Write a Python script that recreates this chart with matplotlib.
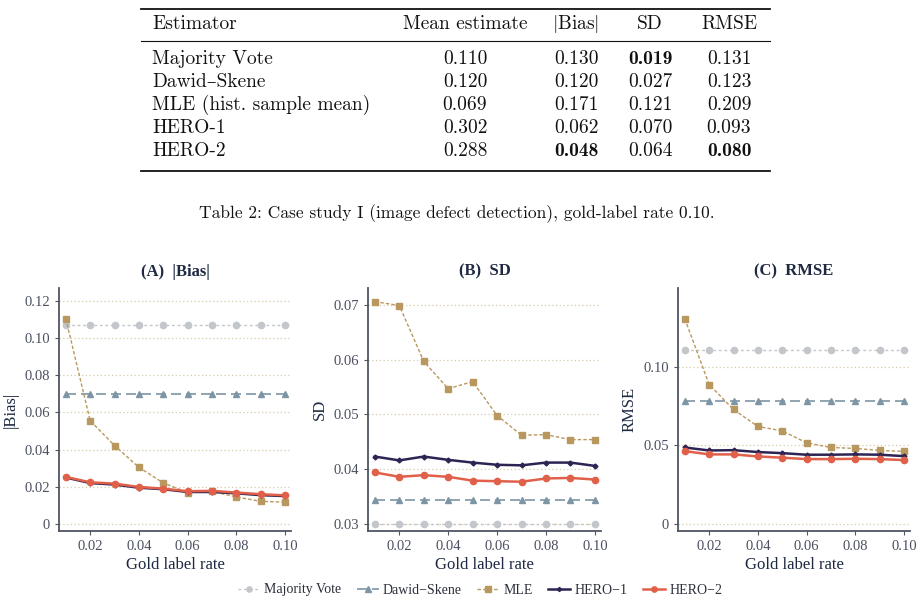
import matplotlib
matplotlib.use("Agg")
import matplotlib.pyplot as plt
import numpy as np

plt.rcParams["mathtext.fontset"] = "cm"

# gold label rates
rates = [0.01, 0.02, 0.03, 0.04, 0.05, 0.06, 0.07, 0.08, 0.09, 0.10]

# (A) |Bias|
bias_mv = [0.107] * 10
bias_ds = [0.070] * 10
bias_mle = [0.1105, 0.0556, 0.0422, 0.0305, 0.0221, 0.0169, 0.0176, 0.0145, 0.0122, 0.0117]
bias_h1 = [0.0250, 0.0220, 0.0212, 0.0195, 0.0187, 0.0172, 0.0172, 0.0165, 0.0155, 0.0150]
bias_h2 = [0.0253, 0.0224, 0.0217, 0.0199, 0.0190, 0.0176, 0.0178, 0.0169, 0.0160, 0.0154]

# (B) SD
sd_mv = [0.0300] * 10
sd_ds = [0.0343] * 10
sd_mle = [0.0706, 0.0699, 0.0597, 0.0547, 0.0560, 0.0498, 0.0462, 0.0463, 0.0454, 0.0454]
sd_h1 = [0.0423, 0.0416, 0.0423, 0.0417, 0.0412, 0.0408, 0.0407, 0.0412, 0.0412, 0.0406]
sd_h2 = [0.0394, 0.0386, 0.0389, 0.0386, 0.0379, 0.0378, 0.0377, 0.0383, 0.0384, 0.0381]

# (C) RMSE
rmse_mv = [0.1110] * 10
rmse_ds = [0.0780] * 10
rmse_mle = [0.1307, 0.0888, 0.0729, 0.0621, 0.0593, 0.0517, 0.0487, 0.0481, 0.0468, 0.0462]
rmse_h1 = [0.0487, 0.0468, 0.0470, 0.0458, 0.0451, 0.0441, 0.0441, 0.0443, 0.0441, 0.0432]
rmse_h2 = [0.0464, 0.0443, 0.0443, 0.0430, 0.0422, 0.0413, 0.0413, 0.0415, 0.0413, 0.0407]

# table 2
tab_header = ["Estimator", "Mean estimate", r"$|$Bias$|$", "SD", "RMSE"]
tab_names = ["Majority Vote", "Dawid\u2013Skene", "MLE (hist. sample mean)", "HERO-1", "HERO-2"]
tab_mean = ["0.110", "0.120", "0.069", "0.302", "0.288"]
tab_bias = ["0.130", "0.120", "0.171", "0.062", "0.048"]
tab_sd = ["0.019", "0.027", "0.121", "0.070", "0.064"]
tab_rmse = ["0.131", "0.123", "0.209", "0.093", "0.080"]
tab_bold = {(3, 0), (2, 4), (4, 4)}   # (column, row) printed in bold
caption = "Table 2: Case study I (image defect detection), gold-label rate 0.10."

labels = ["Majority Vote", "Dawid\u2212Skene", "MLE", "HERO\u22121", "HERO\u22122"]
colors = ["#c3c6cb", "#7d95a4", "#b8985e", "#2d2454", "#e0604a"]
styles = [
    dict(ls=(0, (2, 2)), marker="o", ms=4.5, lw=1.0),
    dict(ls=(0, (6, 3)), marker="^", ms=5, lw=1.2),
    dict(ls=(0, (2.5, 1.5)), marker="s", ms=5, lw=1.0),
    dict(ls="-", marker="D", ms=2.5, lw=1.8),
    dict(ls="-", marker="o", ms=4.5, lw=1.8),
]

W, H = 922, 604
fig = plt.figure(figsize=(W / 100, H / 100), dpi=100)


def fx(px):
    return px / W


def fy(py):
    return 1 - py / H


# ---- table ----
cm = dict(family=["cmr10", "DejaVu Serif"], fontsize=14, color="#111111")
cmb = dict(family=["cmb10", "DejaVu Serif"], fontsize=14, color="#111111")

for yy, lw in [(9, 1.3), (41, 0.8), (171, 1.3)]:
    fig.add_artist(plt.Line2D([fx(141), fx(770)], [fy(yy), fy(yy)], color="#111111", lw=lw))

col_x = [152, 465, 576, 650, 729]
fig.text(fx(col_x[0]), fy(24), tab_header[0], ha="left", va="center", **cm)
for j in range(1, 5):
    fig.text(fx(col_x[j]), fy(24), tab_header[j], ha="center", va="center", **cm)

row_y = [59, 82, 105, 128, 151]
cols = [tab_mean, tab_bias, tab_sd, tab_rmse]
for i, name in enumerate(tab_names):
    y = fy(row_y[i])
    fig.text(fx(col_x[0]), y, name, ha="left", va="center", **cm)
    for j, col in enumerate(cols, start=1):
        st = cmb if (j, i) in tab_bold else cm
        fig.text(fx(col_x[j]), y, col[i], ha="center", va="center", **st)

fig.text(fx(457), fy(214), caption, ha="center", va="center",
         family=["cmr10", "DejaVu Serif"], fontsize=12.5, color="#111111")

# ---- panels ----
panels = [
    dict(pos=[59, 291], title="(A)  |Bias|", ylabel="|Bias|",
         data=[bias_mv, bias_ds, bias_mle, bias_h1, bias_h2],
         ylim=(-0.0038, 0.127), yticks=[0, 0.02, 0.04, 0.06, 0.08, 0.10, 0.12],
         ylabels=["0", "0.02", "0.04", "0.06", "0.08", "0.10", "0.12"]),
    dict(pos=[368, 601], title="(B)  SD", ylabel="SD",
         data=[sd_mv, sd_ds, sd_mle, sd_h1, sd_h2],
         ylim=(0.0287, 0.0731), yticks=[0.03, 0.04, 0.05, 0.06, 0.07],
         ylabels=["0.03", "0.04", "0.05", "0.06", "0.07"]),
    dict(pos=[678, 910], title="(C)  RMSE", ylabel="RMSE",
         data=[rmse_mv, rmse_ds, rmse_mle, rmse_h1, rmse_h2],
         ylim=(-0.0045, 0.1503), yticks=[0, 0.05, 0.10],
         ylabels=["0", "0.05", "0.10"]),
]

serif = ["Liberation Serif", "DejaVu Serif"]
tick_col = "#4b5060"
spine_col = "#4f5563"
handles = []
for p in panels:
    l, r = p["pos"]
    ax = fig.add_axes([fx(l), fy(531), (r - l) / W, (531 - 288) / H])
    for k in range(5):
        h, = ax.plot(rates, p["data"][k], color=colors[k], mec=colors[k], mfc=colors[k],
                     label=labels[k], zorder=3 + k, **styles[k])
        if len(handles) < 5:
            handles.append(h)
    ax.set_xlim(0.0072, 0.1025)
    ax.set_ylim(*p["ylim"])
    ax.set_yticks(p["yticks"])
    ax.set_yticklabels(p["ylabels"], family=serif, fontsize=10.5, color=tick_col)
    ax.set_xticks([0.02, 0.04, 0.06, 0.08, 0.10])
    ax.set_xticklabels(["0.02", "0.04", "0.06", "0.08", "0.10"], family=serif, fontsize=10.5, color=tick_col)
    ax.grid(axis="y", color="#d6cca8", ls=(0, (1, 2)), lw=0.9)
    ax.set_axisbelow(True)
    for s in ["top", "right"]:
        ax.spines[s].set_visible(False)
    for s in ["left", "bottom"]:
        ax.spines[s].set_color(spine_col)
        ax.spines[s].set_linewidth(1.3)
    ax.tick_params(colors=spine_col, length=3, width=0.8, labelcolor=tick_col)
    ax.set_title(p["title"], family=serif, fontsize=12, fontweight="bold", color="#1e2a42", pad=9)
    ax.set_ylabel(p["ylabel"], family=serif, fontsize=12, color="#1e2a42")
    ax.set_xlabel("Gold label rate", family=serif, fontsize=12, color="#1e2a42", labelpad=3)

fig.legend(handles=handles, loc="center", bbox_to_anchor=(fx(480), fy(590)), ncol=5,
           frameon=False, prop=dict(family=serif, size=10), handlelength=1.6,
           columnspacing=1.1, handletextpad=0.3, labelcolor="#2a2f3a", markerscale=0.85)

fig.savefig("out.png", dpi=100)
